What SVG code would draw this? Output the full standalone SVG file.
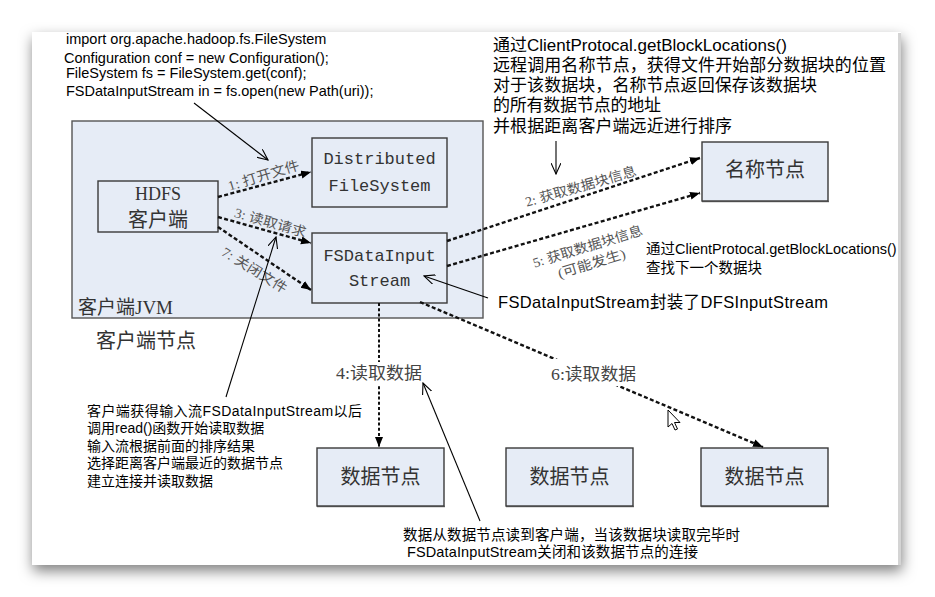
<svg xmlns="http://www.w3.org/2000/svg" width="935" height="597" viewBox="0 0 935 597">
<defs>
<filter id="pg" x="-10%" y="-10%" width="120%" height="125%">
<feDropShadow dx="1" dy="6" stdDeviation="7" flood-color="#000" flood-opacity="0.5"/>
</filter>
<marker id="ah" markerUnits="userSpaceOnUse" markerWidth="11" markerHeight="9" refX="10" refY="4" orient="auto">
<path d="M0,0 L10,4 L0,8 z" fill="#000"/>
</marker>
<marker id="oa" markerUnits="userSpaceOnUse" markerWidth="12" markerHeight="10" refX="11" refY="5" orient="auto">
<path d="M0,0 L11,5 L0,10" fill="none" stroke="#000" stroke-width="1.1"/>
</marker>
<style>
.box{fill:#e6ecf6;stroke:#3a3a3a;stroke-width:1.4}
.sh{stroke:#7a7a7a;stroke-width:1.6}
.dash{fill:none;stroke:#111;stroke-width:2.4;stroke-dasharray:4 2.4}
.ann{fill:none;stroke:#000;stroke-width:1.1}
.t{font-family:"Liberation Sans","Noto Sans CJK SC",sans-serif;fill:#000}
.lbl{font-family:"Liberation Serif","Noto Sans CJK SC",serif;fill:#333}
.mono{font-family:"Liberation Mono","Noto Sans CJK SC",monospace;fill:#333;font-size:17px}
.cl{font-family:"Liberation Serif","Noto Sans CJK SC",serif;fill:#555;font-size:13.5px}
</style>
</defs>
<rect x="0" y="0" width="935" height="597" fill="#fff"/>
<rect x="32" y="32" width="869" height="533" fill="#fff" filter="url(#pg)"/>
<rect x="898" y="33" width="3" height="532" fill="#d4d4d4"/>

<g id="jvm">
<rect class="box" x="72" y="121" width="411" height="197" style="stroke:#555"/>
<text class="lbl" x="78" y="314" font-size="19">客户端JVM</text>
</g>
<text id="client-node-label" class="lbl" x="96" y="348" font-size="20">客户端节点</text>

<g id="hdfs-client">
<rect class="box" x="98" y="181" width="120" height="51"/>
<text class="lbl" x="158" y="200" font-size="18" text-anchor="middle">HDFS</text>
<text class="lbl" x="158" y="227" font-size="20" text-anchor="middle">客户端</text>
</g>
<g id="dfs">
<rect class="box" x="312" y="138" width="135" height="69"/>
<text class="mono" x="379.5" y="164" text-anchor="middle">Distributed</text>
<text class="mono" x="379.5" y="191" text-anchor="middle">FileSystem</text>
</g>
<g id="fsdis">
<rect class="box" x="312" y="233" width="135" height="70"/>
<text class="mono" x="379.5" y="261" text-anchor="middle">FSDataInput</text>
<text class="mono" x="379.5" y="286" text-anchor="middle">Stream</text>
</g>
<g id="namenode">
<line class="sh" x1="702" y1="201.5" x2="829" y2="201.5"/>
<rect class="box" x="702" y="142" width="126" height="59"/>
<text class="lbl" x="765" y="177" font-size="20" text-anchor="middle">名称节点</text>
</g>
<g id="datanode1">
<line class="sh" x1="317" y1="506.5" x2="445" y2="506.5"/>
<rect class="box" x="317" y="448" width="127" height="58"/>
<text class="lbl" x="380.5" y="484" font-size="20" text-anchor="middle">数据节点</text>
</g>
<g id="datanode2">
<line class="sh" x1="506" y1="506.5" x2="634" y2="506.5"/>
<rect class="box" x="506" y="448" width="127" height="58"/>
<text class="lbl" x="569.5" y="484" font-size="20" text-anchor="middle">数据节点</text>
</g>
<g id="datanode3">
<line class="sh" x1="701" y1="506.5" x2="829" y2="506.5"/>
<rect class="box" x="701" y="448" width="127" height="58"/>
<text class="lbl" x="764.5" y="484" font-size="20" text-anchor="middle">数据节点</text>
</g>

<g id="connectors">
<line class="dash" x1="218" y1="197" x2="311" y2="172" marker-end="url(#ah)"/>
<line class="dash" x1="218" y1="217" x2="311" y2="243" marker-end="url(#ah)"/>
<line class="dash" x1="218" y1="227" x2="311" y2="290" marker-end="url(#ah)"/>
<line class="dash" x1="447" y1="241" x2="700" y2="158" marker-end="url(#ah)"/>
<line class="dash" x1="447" y1="266" x2="700" y2="193" marker-end="url(#ah)"/>
<line class="dash" x1="379" y1="303" x2="379" y2="447" marker-end="url(#ah)" style="stroke-width:2;stroke-dasharray:3 2.2"/>
<line class="dash" x1="420" y1="302" x2="763" y2="447" marker-end="url(#ah)"/>
<rect x="335" y="362" width="90" height="23" fill="#fff"/>
<rect x="549" y="359" width="90" height="27" fill="#fff"/>
<text class="cl" transform="translate(265,180) rotate(-17)" text-anchor="middle" textLength="74" lengthAdjust="spacingAndGlyphs">1: 打开文件</text>
<text class="cl" transform="translate(269,227) rotate(16)" text-anchor="middle" textLength="74" lengthAdjust="spacingAndGlyphs">3: 读取请求</text>
<text class="cl" transform="translate(252,274) rotate(32)" text-anchor="middle" textLength="74" lengthAdjust="spacingAndGlyphs">7: 关闭文件</text>
<text class="cl" transform="translate(582,191) rotate(-16)" text-anchor="middle" textLength="115" lengthAdjust="spacingAndGlyphs">2: 获取数据块信息</text>
<text class="cl" transform="translate(589,251) rotate(-17)" text-anchor="middle" textLength="114" lengthAdjust="spacingAndGlyphs">5: 获取数据块信息</text>
<text class="cl" transform="translate(593,268) rotate(-17)" text-anchor="middle" textLength="70" lengthAdjust="spacingAndGlyphs">(可能发生)</text>
<text class="lbl" x="336" y="379" font-size="17" textLength="86" lengthAdjust="spacingAndGlyphs" style="fill:#444">4:读取数据</text>
<text class="lbl" x="551" y="380" font-size="17" textLength="85" lengthAdjust="spacingAndGlyphs" style="fill:#444">6:读取数据</text>
<line class="ann" x1="194" y1="103" x2="268" y2="160" marker-end="url(#oa)"/>
<line class="ann" x1="556" y1="141" x2="556" y2="174" marker-end="url(#oa)"/>
<line class="ann" x1="488" y1="298" x2="424" y2="276" marker-end="url(#oa)"/>
<line class="ann" x1="226" y1="397" x2="276" y2="237" marker-end="url(#oa)"/>
<line class="ann" x1="480" y1="521" x2="423" y2="383" marker-end="url(#oa)"/>
</g>

<g id="code-note" class="t" font-size="14.5">
<text x="66" y="44">import org.apache.hadoop.fs.FileSystem</text>
<text x="64" y="63">Configuration conf = new Configuration();</text>
<text x="66" y="78">FileSystem fs = FileSystem.get(conf);</text>
<text x="66" y="96">FSDataInputStream in = fs.open(new Path(uri));</text>
</g>
<g id="namenode-note" class="t" font-size="17">
<text x="493" y="51">通过ClientProtocal.getBlockLocations()</text>
<text x="493" y="71" textLength="393" lengthAdjust="spacing">远程调用名称节点，获得文件开始部分数据块的位置</text>
<text x="493" y="91" textLength="324" lengthAdjust="spacing">对于该数据块，名称节点返回保存该数据块</text>
<text x="493" y="111" textLength="168" lengthAdjust="spacing">的所有数据节点的地址</text>
<text x="493" y="132" textLength="239" lengthAdjust="spacing">并根据距离客户端远近进行排序</text>
</g>
<g id="next-block-note" class="t" font-size="14.5">
<text x="646" y="254">通过ClientProtocal.getBlockLocations()</text>
<text x="646" y="273">查找下一个数据块</text>
</g>
<text id="wrap-note" class="t" x="498" y="308" font-size="16.5" textLength="330" lengthAdjust="spacing">FSDataInputStream封装了DFSInputStream</text>
<g id="read-note" class="t" font-size="14">
<text x="87" y="416" textLength="275" lengthAdjust="spacing">客户端获得输入流FSDataInputStream以后</text>
<text x="87" y="433">调用read()函数开始读取数据</text>
<text x="87" y="451">输入流根据前面的排序结果</text>
<text x="87" y="468">选择距离客户端最近的数据节点</text>
<text x="87" y="486">建立连接并读取数据</text>
</g>
<g id="close-note" class="t" font-size="14.5">
<text x="403" y="540" textLength="337" lengthAdjust="spacing">数据从数据节点读到客户端，当该数据块读取完毕时</text>
<text x="407" y="557" textLength="291" lengthAdjust="spacing">FSDataInputStream关闭和该数据节点的连接</text>
</g>
<path id="cursor" d="M668,410 L668,427 L672,423.5 L675,430 L677.5,429 L674.5,422.5 L680,422.5 Z" fill="#fff" stroke="#000" stroke-width="1"/>
</svg>
